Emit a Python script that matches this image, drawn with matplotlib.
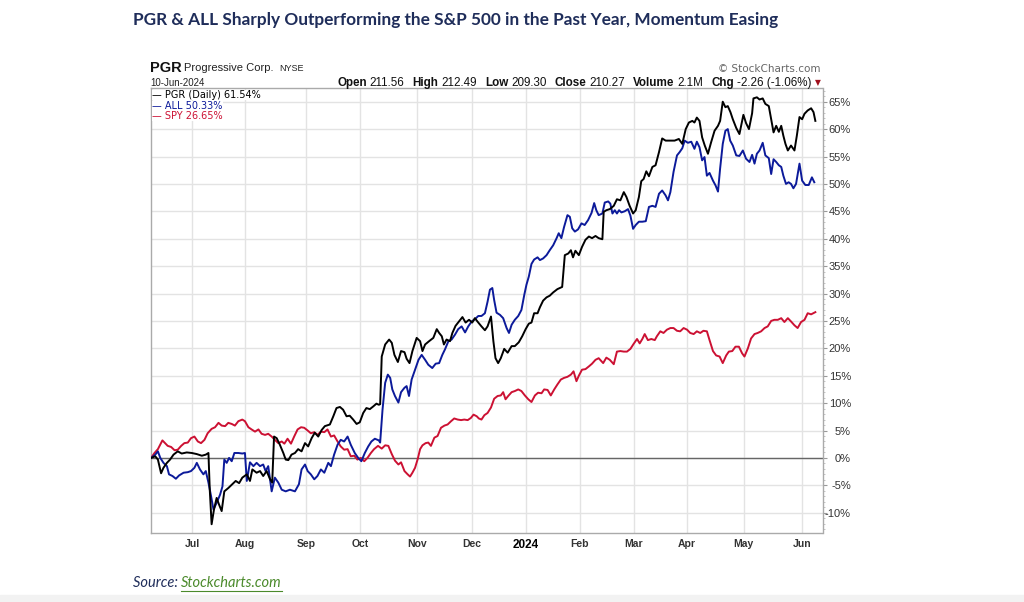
import matplotlib
matplotlib.use("Agg")
import matplotlib.pyplot as plt
from matplotlib.ticker import MultipleLocator, FixedLocator

# x is the trading-day index counted from the start of the chart (mid-Jun 2023)
pgr_day = [0.25, 1.8, 2.8, 4.0, 4.9, 6.2, 7.4, 8.7, 10.3, 11.8, 13.7, 15.6, 17.5, 19.4, 20.9, 21.9,
           22.4, 23.1, 24.0, 25.0, 25.9, 26.9, 27.9, 29.4, 30.9, 32.2, 33.5, 34.7, 36.4, 37.6, 38.5,
           40.1, 41.4, 42.6, 43.9, 45.2, 46.0, 46.7, 47.7, 48.9, 50.2, 51.1, 52.1, 53.3, 54.6, 55.8,
           57.1, 58.4, 59.6, 60.9, 62.1, 63.4, 64.7, 65.9, 67.8, 69.1, 70.3, 71.6, 72.8, 74.1, 75.3,
           76.6, 77.9, 79.1, 80.4, 81.6, 82.9, 84.2, 85.4, 86.3, 86.8, 87.4, 88.7, 90.2, 91.2, 92.2,
           93.5, 94.7, 96.0, 96.8, 97.9, 99.0, 100.6, 101.9, 102.8, 103.8, 105.3, 106.9, 108.2, 109.1,
           110.1, 110.9, 111.9, 113.2, 114.1, 115.3, 116.6, 117.9, 119.1, 120.4, 121.6, 122.6, 123.9,
           125.1, 126.4, 127.4, 128.7, 129.6, 130.4, 131.4, 132.4, 133.7, 135.0, 136.5, 137.7, 139.2,
           140.5, 141.8, 143.0, 144.0, 145.0, 146.3, 147.2, 148.4, 149.7, 150.9, 152.2, 153.8, 155.6,
           156.6, 157.9, 158.9, 159.7, 160.6, 161.9, 163.1, 164.4, 165.7, 166.9, 168.2, 169.4, 170.8,
           171.3, 172.3, 173.6, 175.1, 176.3, 177.6, 178.9, 179.9, 181.1, 182.4, 183.4, 184.6, 185.5,
           186.4, 187.4, 188.4, 189.7, 190.9, 192.2, 193.4, 194.7, 196.2, 198.1, 199.7, 201.0, 202.3,
           203.5, 204.8, 205.6, 206.5, 207.5, 208.5, 209.5, 210.7, 211.9, 213.2, 214.5, 215.3, 216.3,
           217.3, 218.2, 219.2, 220.1, 221.4, 222.6, 224.1, 225.1, 226.2, 227.4, 227.9, 229.2, 230.2,
           231.4, 232.4, 233.7, 234.6, 235.5, 236.5, 237.5, 238.4, 239.2, 240.0, 240.9, 242.1, 243.4,
           244.3, 245.3, 246.3, 247.2, 248.4, 249.7, 250.6, 251.3]
pgr_pct = [0.0, 0.3, -0.3, -2.8, -1.8, -0.9, -0.3, 0.6, 1.2, 0.8, 1.0, 0.9, 0.7, 0.4, 0.6, 0.9,
           -5.8, -12.1, -9.4, -7.3, -8.5, -9.7, -6.1, -5.5, -4.8, -4.2, -4.6, -3.6, -3.0, -4.2, -2.1,
           -2.7, -2.4, -3.3, -2.4, -3.9, -4.5, 3.9, 3.6, 2.4, 0.9, -0.3, -0.4, 0.6, 0.9, 1.6,
           1.2, 2.7, 2.1, 3.6, 4.6, 3.9, 5.1, 5.8, 6.1, 7.6, 9.1, 9.3, 8.8, 7.6, 7.7,
           7.0, 6.2, 6.5, 8.2, 9.1, 8.9, 9.4, 9.9, 9.7, 9.8, 18.5, 20.7, 21.6, 21.0, 18.8,
           17.5, 19.5, 19.3, 18.1, 17.3, 19.5, 21.9, 21.3, 19.5, 20.7, 21.3, 21.9, 23.5, 22.8,
           22.2, 20.7, 21.6, 21.3, 22.8, 24.1, 24.9, 25.7, 24.7, 25.2, 24.7, 25.5, 24.7,
           24.0, 23.3, 24.0, 25.8, 21.3, 18.2, 17.3, 18.2, 19.9, 19.2, 20.4, 20.4, 21.1,
           22.2, 23.5, 24.5, 24.7, 26.4, 26.4, 27.5, 28.7, 29.3, 29.6, 30.2, 30.8, 31.2,
           37.0, 37.3, 37.9, 36.6, 37.8, 37.0, 38.5, 39.8, 40.4, 40.1, 40.5, 40.1, 39.9,
           44.9, 45.2, 45.4, 46.0, 47.2, 47.0, 48.5, 47.6, 46.0, 44.6, 45.2, 47.6, 50.5,
           50.9, 52.3, 51.4, 53.1, 53.4, 55.8, 58.3, 57.9, 57.9, 57.9, 58.2, 57.3, 60.0,
           61.2, 61.5, 61.2, 62.1, 61.5, 58.5, 57.0, 55.5, 57.6, 59.7, 60.6, 61.5, 65.0,
           64.0, 64.2, 63.1, 61.8, 60.2, 59.1, 62.6, 61.1, 60.0, 62.9, 65.6, 65.8, 65.4,
           65.6, 64.6, 64.2, 61.8, 59.4, 60.6, 59.5, 60.6, 58.8, 57.3, 56.1, 57.0, 56.1,
           58.8, 62.2, 61.8, 62.8, 63.4, 63.8, 63.1, 61.5]

all_day = [0.25, 1.8, 2.8, 3.7, 4.9, 6.2, 7.0, 8.3, 9.6, 10.8, 12.5, 14.1, 15.3, 16.6, 17.5, 18.7,
           20.0, 20.9, 21.9, 22.9, 23.8, 25.0, 26.3, 27.2, 27.9, 28.8, 29.7, 30.7, 31.7, 33.2, 34.7,
           35.7, 36.4, 37.6, 38.9, 40.1, 41.4, 42.6, 43.5, 44.5, 45.8, 47.0, 48.3, 49.6, 51.1, 52.7,
           54.6, 56.1, 57.1, 58.4, 59.4, 60.6, 61.9, 63.1, 64.4, 65.7, 67.2, 68.2, 69.4, 70.7, 71.9,
           73.2, 74.5, 75.7, 77.2, 78.5, 79.7, 81.0, 82.3, 83.5, 84.8, 86.3, 86.8, 87.7, 88.7, 89.7,
           90.6, 91.4, 92.4, 93.7, 94.7, 96.0, 96.8, 97.7, 98.7, 100.0, 101.3, 102.5, 103.8, 105.0,
           106.5, 107.8, 109.1, 110.3, 111.3, 112.6, 113.8, 115.1, 116.3, 117.6, 118.9, 120.1, 121.4,
           122.6, 123.9, 125.1, 126.4, 127.4, 128.3, 129.2, 129.9, 130.8, 132.1, 133.3, 134.6, 135.5,
           136.5, 137.7, 139.0, 140.2, 141.3, 142.1, 143.0, 144.0, 145.0, 146.3, 147.2, 148.4, 149.7,
           150.9, 152.2, 153.5, 154.3, 155.3, 156.3, 157.6, 158.5, 159.4, 160.4, 161.6, 162.9, 164.1,
           165.4, 166.7, 167.7, 168.5, 169.4, 170.8, 171.7, 173.0, 173.8, 174.6, 175.5, 176.3, 177.1,
           178.0, 179.2, 180.5, 181.4, 182.4, 183.4, 184.6, 185.9, 187.2, 188.4, 189.7, 190.9, 192.2,
           193.4, 194.7, 195.6, 196.5, 197.7, 199.0, 200.0, 201.0, 201.9, 203.1, 204.4, 205.6, 206.5,
           207.5, 208.5, 209.4, 210.3, 211.3, 212.6, 213.6, 214.5, 215.3, 216.3, 217.3, 218.2, 219.1,
           220.1, 221.4, 222.6, 223.9, 225.1, 226.4, 227.4, 228.3, 229.2, 230.2, 231.4, 232.4, 233.7,
           234.6, 235.5, 236.5, 237.5, 238.4, 239.2, 240.2, 241.2, 242.1, 243.0, 244.0, 245.3, 246.3,
           247.5, 248.8, 250.0, 250.9]
all_pct = [0.0, 0.6, 1.2, 0.0, -0.9, -1.5, -3.0, -3.3, -3.8, -3.2, -2.7, -2.6, -2.4, -1.8, -0.9, -2.1,
           -3.0, -2.4, -4.5, -7.0, -9.4, -8.2, -6.7, -5.2, -0.3, -0.9, 0.0, -0.6, 0.9, 0.9, 0.8,
           0.9, -4.2, -0.8, -1.5, -0.9, -1.5, -1.2, -2.4, -1.5, -6.1, -3.6, -4.5, -5.8, -6.1, -5.8,
           -6.1, -4.8, -2.1, -1.2, -2.4, -3.0, -3.9, -3.3, -2.1, -2.7, -0.9, -1.5, 0.6, 2.4, 3.3,
           3.0, 3.9, 2.4, 0.9, 0.0, -0.6, 0.9, 2.1, 3.0, 3.5, 3.2, 2.8, 8.8, 13.7, 15.2,
           14.6, 12.5, 11.3, 10.1, 12.0, 12.8, 13.1, 11.3, 14.3, 16.1, 17.9, 18.8, 17.9, 17.0,
           16.4, 17.2, 17.3, 18.8, 19.8, 21.3, 21.6, 22.5, 23.5, 24.0, 22.9, 24.0, 24.9,
           25.3, 25.9, 25.9, 26.4, 28.5, 30.7, 31.0, 28.8, 26.5, 26.1, 25.5, 23.7, 22.8,
           24.3, 25.2, 25.9, 27.0, 29.8, 31.6, 33.1, 35.4, 36.2, 36.6, 36.1, 36.4, 37.0,
           37.9, 38.8, 40.1, 41.0, 40.1, 42.1, 44.3, 44.0, 41.9, 41.3, 41.7, 42.8, 42.5,
           43.4, 44.7, 46.5, 45.2, 44.3, 44.6, 46.6, 46.8, 46.4, 44.6, 45.2, 44.6, 45.2,
           44.8, 45.0, 45.4, 44.2, 41.8, 42.5, 43.1, 43.1, 43.2, 45.8, 46.0, 45.8, 48.2,
           48.8, 47.9, 47.0, 48.5, 52.2, 55.2, 55.8, 56.5, 57.9, 57.5, 57.7, 56.4, 57.7,
           56.7, 54.3, 54.9, 51.5, 52.0, 50.6, 49.7, 48.6, 52.8, 57.3, 59.7, 60.0, 57.9,
           57.0, 55.2, 55.1, 56.1, 54.6, 54.0, 55.3, 53.7, 55.5, 56.1, 57.5, 55.2, 54.7,
           51.8, 54.5, 54.0, 53.4, 53.1, 51.5, 50.0, 50.3, 50.0, 49.2, 50.0, 53.7, 50.6,
           49.8, 49.8, 51.2, 50.3]

spy_day = [0.25, 1.5, 2.8, 4.5, 5.5, 6.5, 7.8, 9.1, 10.3, 11.6, 12.8, 14.1, 15.3, 16.6, 17.9, 19.1,
           20.4, 21.6, 23.1, 24.4, 25.7, 26.9, 28.2, 29.4, 30.7, 31.9, 33.2, 34.7, 35.7, 37.0, 38.2,
           39.5, 40.8, 42.0, 43.3, 44.5, 45.8, 47.0, 48.3, 49.6, 50.6, 51.8, 53.1, 54.3, 55.6, 56.9,
           58.1, 59.4, 60.6, 61.9, 63.1, 64.4, 65.7, 66.9, 68.2, 69.4, 70.7, 71.9, 73.2, 74.5, 75.7,
           77.0, 78.2, 79.5, 80.8, 82.0, 83.3, 84.5, 86.0, 87.4, 88.7, 89.9, 91.2, 92.4, 93.7, 94.7,
           96.0, 97.2, 98.1, 99.0, 100.0, 101.0, 101.9, 102.8, 104.0, 105.0, 106.0, 107.3, 108.5,
           109.8, 111.1, 112.3, 113.6, 114.8, 116.1, 117.4, 118.6, 119.9, 121.1, 122.1, 123.3, 124.1,
           125.1, 126.2, 127.4, 128.7, 129.9, 131.2, 132.4, 133.3, 134.2, 135.2, 136.5, 137.7, 139.0,
           140.2, 141.5, 142.8, 144.0, 145.3, 146.5, 147.8, 148.8, 150.1, 151.3, 152.6, 153.8, 155.1,
           156.3, 157.6, 158.9, 159.9, 161.0, 161.9, 163.1, 164.4, 165.7, 166.9, 168.2, 169.4, 171.1,
           172.3, 173.6, 175.1, 176.3, 177.6, 178.9, 180.1, 181.4, 182.6, 183.9, 184.9, 185.9, 186.8,
           188.0, 189.3, 190.6, 191.4, 192.7, 193.9, 195.2, 196.5, 197.7, 199.0, 200.2, 201.5, 202.8,
           204.0, 205.3, 206.5, 207.8, 209.0, 210.3, 211.3, 212.6, 213.8, 215.1, 216.3, 217.6, 218.6,
           219.9, 221.1, 222.4, 223.6, 224.5, 225.8, 227.0, 228.3, 229.5, 230.8, 232.1, 233.3, 234.6,
           235.8, 237.1, 238.4, 239.6, 240.9, 242.1, 243.4, 244.6, 245.9, 247.2, 248.4, 249.7, 251.3]
spy_pct = [0.0, 0.9, 1.6, 3.2, 2.7, 2.2, 2.0, 1.4, 1.5, 2.2, 2.7, 2.8, 3.6, 3.9, 3.0, 2.7,
           3.3, 4.5, 5.3, 5.6, 6.4, 5.9, 5.8, 6.4, 6.2, 5.9, 6.7, 7.0, 6.7, 5.6, 5.2,
           4.8, 5.2, 4.4, 4.2, 4.4, 3.9, 3.3, 2.7, 3.0, 2.6, 3.5, 2.6, 3.9, 5.2, 5.6,
           5.5, 5.0, 4.5, 4.7, 4.2, 4.8, 4.7, 5.2, 3.9, 4.1, 3.0, 2.1, 1.5, 1.6, 0.3,
           0.4, -0.3, 0.0, -0.6, 0.0, 0.9, 1.6, 2.2, 1.7, 2.3, 2.2, 0.7, -0.5, -1.2, -0.8,
           -2.4, -3.0, -3.4, -2.7, -1.8, -0.2, 1.6, 2.3, 2.7, 2.8, 2.2, 3.7, 4.0,
           5.5, 5.9, 6.1, 6.7, 7.2, 7.0, 6.9, 7.0, 6.9, 7.3, 7.9, 7.6, 7.2,
           7.0, 7.8, 8.2, 9.2, 10.8, 11.3, 11.4, 12.0, 10.7, 11.3, 12.0, 12.2, 12.5,
           12.2, 11.4, 10.7, 10.2, 11.4, 11.9, 11.8, 12.5, 12.4, 11.4, 12.5, 13.4, 14.3,
           14.6, 14.8, 15.2, 15.8, 14.0, 15.0, 16.1, 16.2, 16.7, 17.2, 17.9, 18.2, 17.3,
           18.3, 17.9, 17.1, 19.4, 19.5, 19.4, 19.4, 19.9, 20.8, 21.7, 20.9, 21.7, 22.6,
           21.5, 21.7, 21.5, 22.2, 23.1, 22.8, 23.4, 23.7, 23.7, 23.2, 23.1, 23.7, 23.4,
           22.8, 22.6, 23.1, 22.8, 23.2, 23.1, 21.5, 19.5, 18.7, 18.5, 17.3, 18.7, 19.4,
           19.5, 20.3, 20.3, 19.1, 18.5, 20.0, 21.8, 22.6, 22.8, 23.1, 23.7, 24.0, 25.0,
           25.2, 25.2, 25.5, 24.8, 25.5, 24.9, 24.2, 23.7, 24.8, 25.2, 26.4, 26.2, 26.6]

month_pos = [15.8, 35.7, 58.8, 79.1, 100.6, 121.5, 141.9, 162.3, 182.6, 202.6, 224.2, 246.4]
month_labels = ["Jul", "Aug", "Sep", "Oct", "Nov", "Dec", "2024", "Feb", "Mar", "Apr", "May", "Jun"]

quote_fields = ["Open", "High", "Low", "Close", "Volume", "Chg"]
quote_values = ["211.56", "212.49", "209.30", "210.27", "2.1M", "-2.26 (-1.06%)"]

W, H = 1024, 602


def fx(x):
    return x / W


def fy(y):
    return 1 - y / H


fig = plt.figure(figsize=(W / 100, H / 100), dpi=100)
fig.patch.set_facecolor("white")

ax = fig.add_axes([fx(150.5), fy(533), fx(822.5) - fx(150.5), fy(88) - fy(533)])

navy = "#1f2d5a"
pgr_c, all_c, spy_c = "#000000", "#0c1a9a", "#cc1133"

ax.plot(spy_day, spy_pct, color=spy_c, lw=1.4, zorder=3)
ax.plot(all_day, all_pct, color=all_c, lw=1.4, zorder=4)
ax.plot(pgr_day, pgr_pct, color=pgr_c, lw=1.4, zorder=5)
ax.axhline(0, color="#666666", lw=1.0, zorder=2)

ax.set_xlim(0, 254)
ax.set_ylim(-13.7, 67.5)

# y axis on the right
ax.yaxis.tick_right()
ax.yaxis.set_major_locator(FixedLocator(list(range(-10, 70, 5))))
ax.yaxis.set_minor_locator(MultipleLocator(1))
ax.set_yticklabels([f"{v}%" for v in range(-10, 70, 5)])
ax.tick_params(axis="y", which="major", length=3, width=0.8, color="#999999",
               labelsize=8, labelcolor="#333333", pad=17.5)
ax.tick_params(axis="y", which="minor", length=1.5, width=0.6, color="#bbbbbb")
for lab in ax.get_yticklabels():
    lab.set_horizontalalignment("right")
    lab.set_fontfamily("Liberation Sans")

ax.set_xticks(month_pos)
ax.set_xticklabels(month_labels)
ax.tick_params(axis="x", length=0, pad=4, labelsize=7.5, labelcolor="#333333")
for lab in ax.get_xticklabels():
    lab.set_fontfamily("Liberation Sans")
    lab.set_fontweight("bold")
    if lab.get_text() == "2024":
        lab.set_color("black")
        lab.set_fontsize(8.5)

ax.grid(True, color="#e3e3e3", lw=1.0, zorder=0)
for s in ax.spines.values():
    s.set_color("#aaaaaa")
    s.set_linewidth(1.0)

# title
fig.text(fx(133), fy(20), "PGR & ALL Sharply Outperforming the S&P 500 in the Past Year, Momentum Easing",
         fontsize=12.4, fontweight="bold", color=navy, family="Lato", va="center", ha="left")

# chart header
fig.text(fx(150), fy(68), "PGR", fontsize=10.5, fontweight="bold", family="Liberation Sans",
         va="center", color="#111111")
fig.text(fx(184), fy(68), "Progressive Corp.", fontsize=8, family="Liberation Sans",
         va="center", color="#222222")
fig.text(fx(279), fy(68.5), "NYSE", fontsize=6.5, family="Liberation Sans",
         va="center", color="#222222")
fig.text(fx(150), fy(83), "10-Jun-2024", fontsize=7, family="Liberation Sans",
         va="center", color="#222222")
fig.text(fx(821), fy(69), "\u00a9 StockCharts.com", fontsize=7.5, family="DejaVu Sans",
         va="center", ha="right", color="#666666")

# quote line: lay the pieces left to right, then shift so it ends near the triangle
renderer = fig.canvas.get_renderer()
pieces = []
x = 0.0
for name, val in zip(quote_fields, quote_values):
    for txt, bold, gap in ((name, True, 3), (val, False, 8)):
        t = fig.text(0, fy(83), txt, fontsize=8.4, family="Liberation Sans",
                     fontweight="bold" if bold else "normal", va="center", color="#111111")
        w = t.get_window_extent(renderer).width
        pieces.append((t, x))
        x += w + gap
shift = 811 - (x - 8)
for t, px in pieces:
    t.set_x(fx(px + shift))
fig.text(fx(818), fy(83), "\u25bc", fontsize=5.5, family="DejaVu Sans", va="center",
         ha="center", color="#a0101c")

# legend in the top-left of the plot
legend_rows = [("PGR (Daily) 61.54%", pgr_c, 95), ("ALL 50.33%", all_c, 106), ("SPY 26.65%", spy_c, 116)]
for txt, col, py in legend_rows:
    fig.text(fx(152), fy(py), "\u2014 " + txt, fontsize=7, family="DejaVu Sans", va="center",
             color=col, bbox=dict(facecolor="white", edgecolor="none", pad=0.3), zorder=10)

# source line
src = fig.text(fx(133), fy(583), "Source: ", fontsize=10.5, style="italic", family="Lato",
               color=navy, va="center")
bb = src.get_window_extent(renderer)
link = fig.text(bb.x1 / W, fy(583), "Stockcharts.com", fontsize=10.5, style="italic", family="Lato",
                color="#4b8a2b", va="center")
lb = link.get_window_extent(renderer)
fig.add_artist(plt.Line2D([lb.x0 / W, lb.x1 / W], [fy(591), fy(591)], color="#4b8a2b", lw=0.8))

# faint grey strip at the very bottom
fig.add_artist(plt.Rectangle((0, 0), 1, fy(595), color="#f2f2f2", zorder=-1))

fig.savefig("out.png", dpi=100)
